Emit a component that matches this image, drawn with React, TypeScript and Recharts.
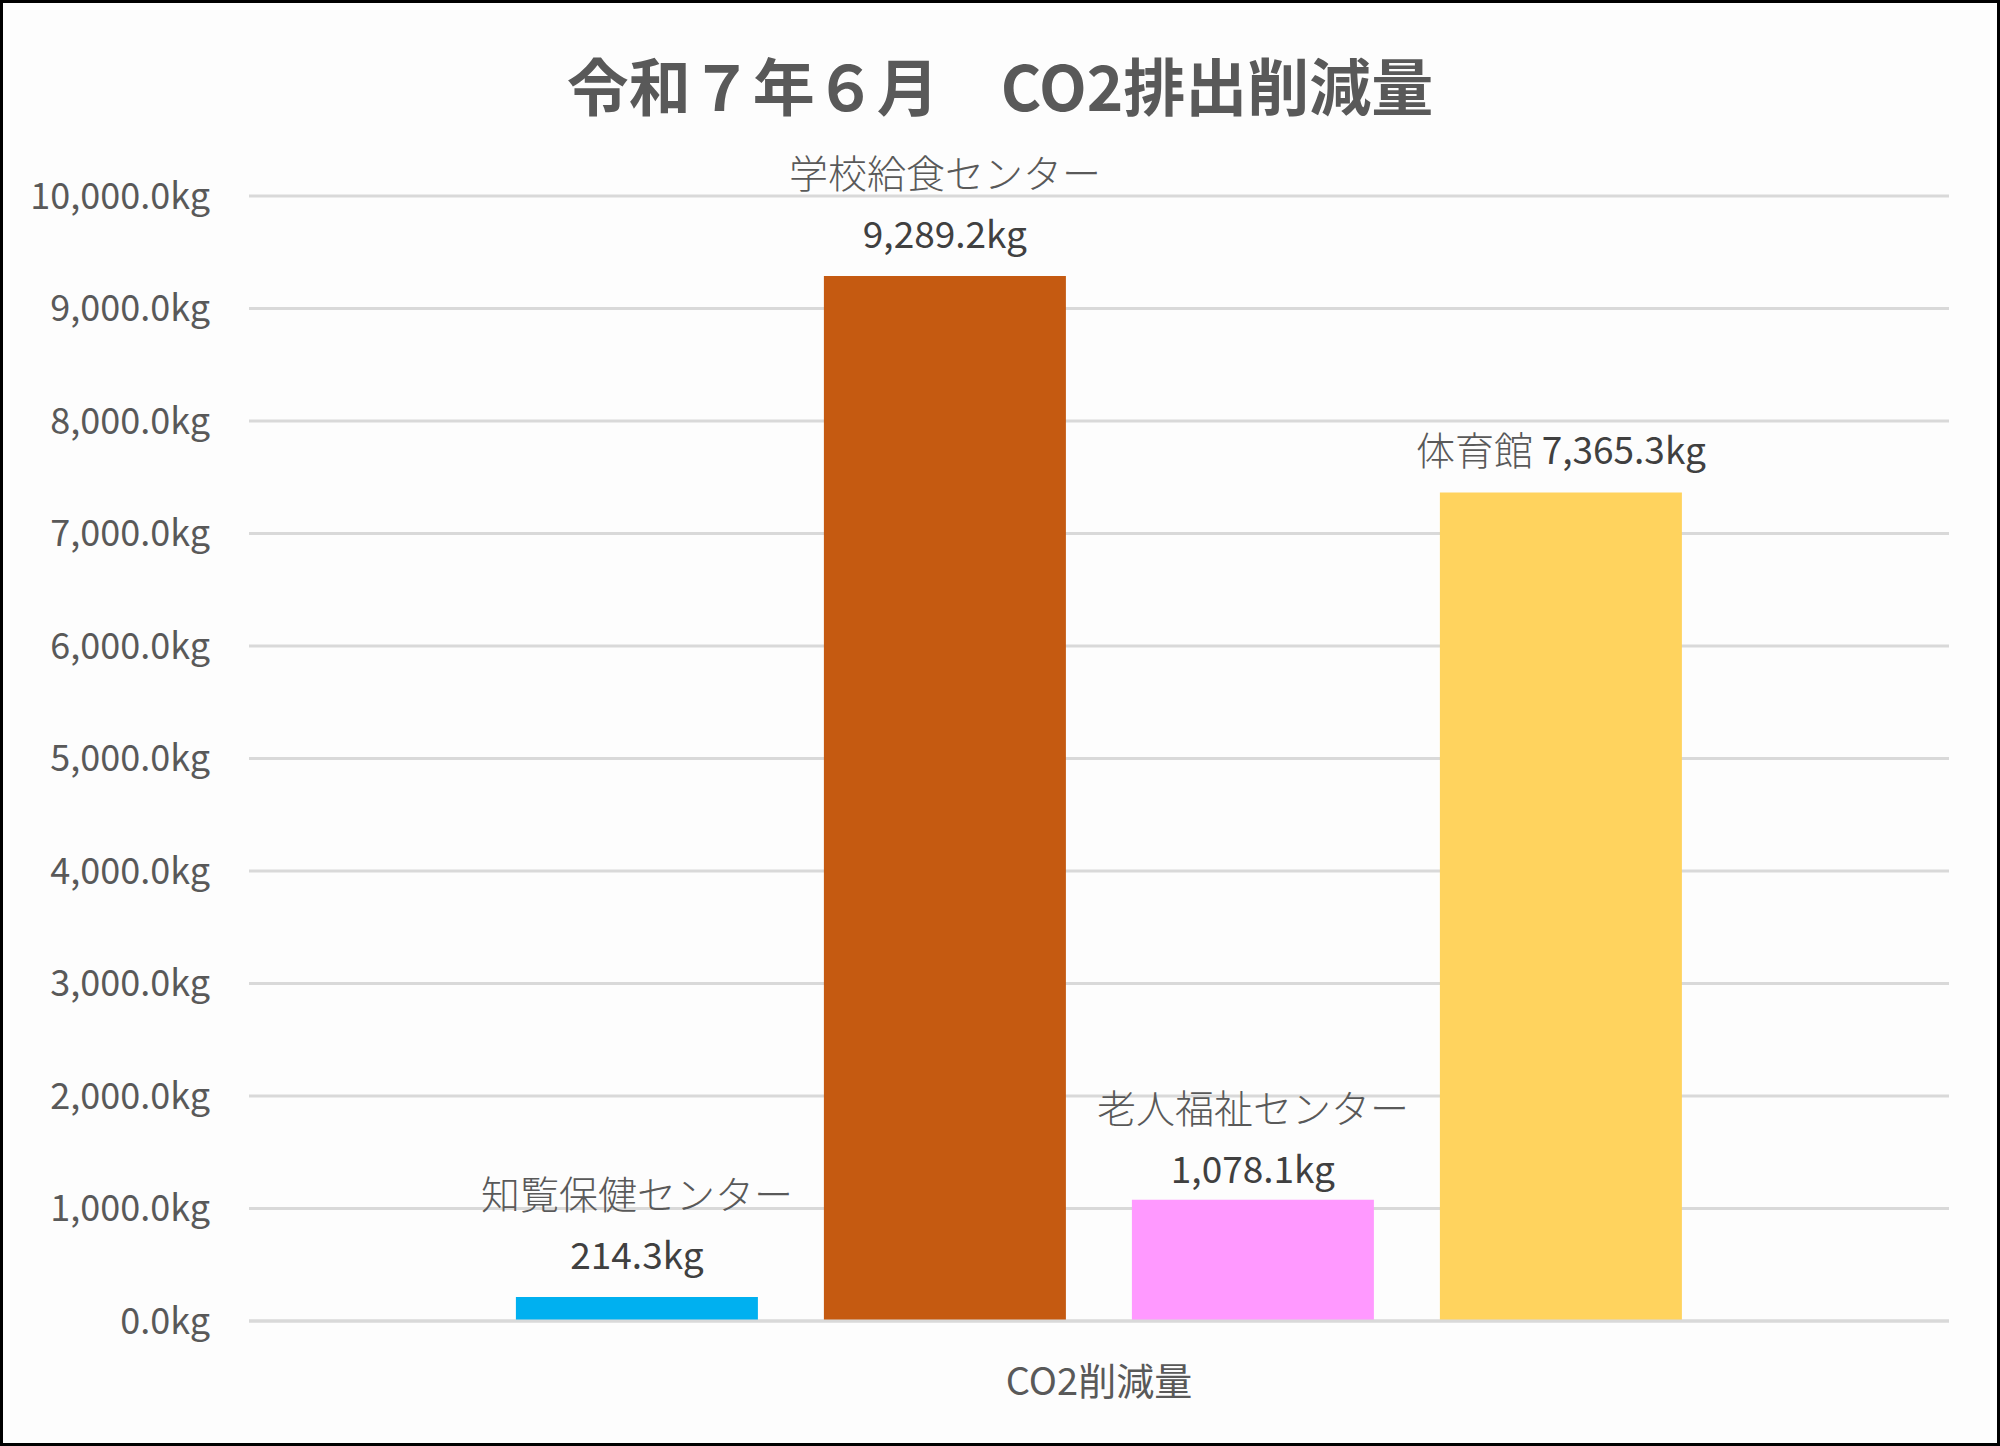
import { BarChart, Bar, XAxis, YAxis, CartesianGrid, LabelList } from "recharts";

const CATEGORIES = ["CO2削減量"];
const SERIES_NAMES = ["知覧保健センター", "学校給食センター", "老人福祉センター", "体育館"];
const SERIES_VALUES = [214.3, 9289.2, 1078.1, 7365.3];
const Y_TICKS = [0, 1000, 2000, 3000, 4000, 5000, 6000, 7000, 8000, 9000, 10000];
const TITLE = "令和７年６月　CO2排出削減量";

const COLORS = ["#00B0F0", "#C55A11", "#FF99FF", "#FFD35E"];
// gap between bar top and value label (Excel labels were nudged a bit on the pink one)
const LABEL_GAP = [44, 44, 33, 44];
const FONT = "'Noto Sans CJK JP', 'Noto Sans', sans-serif";

const fmt = (v: number) =>
  v.toLocaleString("en-US", { minimumFractionDigits: 1, maximumFractionDigits: 1 }) + "kg";

const data = CATEGORIES.map((c) => {
  const row: Record<string, string | number> = { name: c };
  SERIES_VALUES.forEach((v, i) => (row["s" + i] = v));
  return row;
});

function makeLabel(i: number) {
  const inline = i === 3;
  const gap = LABEL_GAP[i];
  return (props: any) => {
    const { x, y, width, value } = props;
    const cx = x + width / 2;
    if (inline) {
      return (
        <text x={cx} y={y - gap} textAnchor="middle" dominantBaseline="central" fontFamily={FONT}>
          <tspan fill="#595959" fontSize={39} fontWeight={300}>{SERIES_NAMES[i]} </tspan>
          <tspan fill="#404040" fontSize={37}>{fmt(value)}</tspan>
        </text>
      );
    }
    return (
      <g>
        <text x={cx} y={y - gap - 61} textAnchor="middle" dominantBaseline="central" fontSize={39} fontWeight={300} fontFamily={FONT} fill="#595959">
          {SERIES_NAMES[i]}
        </text>
        <text x={cx} y={y - gap} textAnchor="middle" dominantBaseline="central" fontSize={37} fontFamily={FONT} fill="#404040">
          {fmt(value)}
        </text>
      </g>
    );
  };
}

export default function App() {
  return (
    <div
      style={{
        position: "absolute",
        left: 0,
        top: 0,
        width: 2000,
        height: 1446,
        boxSizing: "border-box",
        border: "3px solid #000",
        background: "#fdfdfd",
        fontFamily: FONT,
      }}
    >
      <div
        style={{
          position: "absolute",
          left: 0,
          top: 84 - 3 - 40,
          width: 1994,
          textAlign: "center",
          fontSize: 62,
          fontWeight: 700,
          color: "#595959",
          lineHeight: "80px",
        }}
      >
        {TITLE}
      </div>
      <div style={{ position: "absolute", left: -3, top: -3 }}>
        <BarChart
          width={2000}
          height={1446}
          data={data}
          margin={{ top: 196, right: 51, left: 0, bottom: 0 }}
          barCategoryGap="15.7%"
          barGap={66}
        >
          <CartesianGrid vertical={false} stroke="#d9d9d9" strokeWidth={3} />
          <XAxis
            dataKey="name"
            height={125}
            axisLine={{ stroke: "#d9d9d9", strokeWidth: 3 }}
            tickLine={false}
            tickSize={0}
            tickMargin={47}
            tick={{ fontSize: 38, fill: "#595959", fontFamily: FONT }}
          />
          <YAxis
            width={249}
            domain={[0, 10000]}
            ticks={Y_TICKS}
            axisLine={false}
            tickLine={false}
            tickSize={0}
            tickMargin={39}
            tickFormatter={fmt}
            tick={{ fontSize: 36, fill: "#595959", fontFamily: FONT }}
          />
          {SERIES_NAMES.map((n, i) => (
            <Bar key={n} dataKey={"s" + i} name={n} fill={COLORS[i]} isAnimationActive={false}>
              <LabelList dataKey={"s" + i} content={makeLabel(i)} />
            </Bar>
          ))}
        </BarChart>
      </div>
    </div>
  );
}
